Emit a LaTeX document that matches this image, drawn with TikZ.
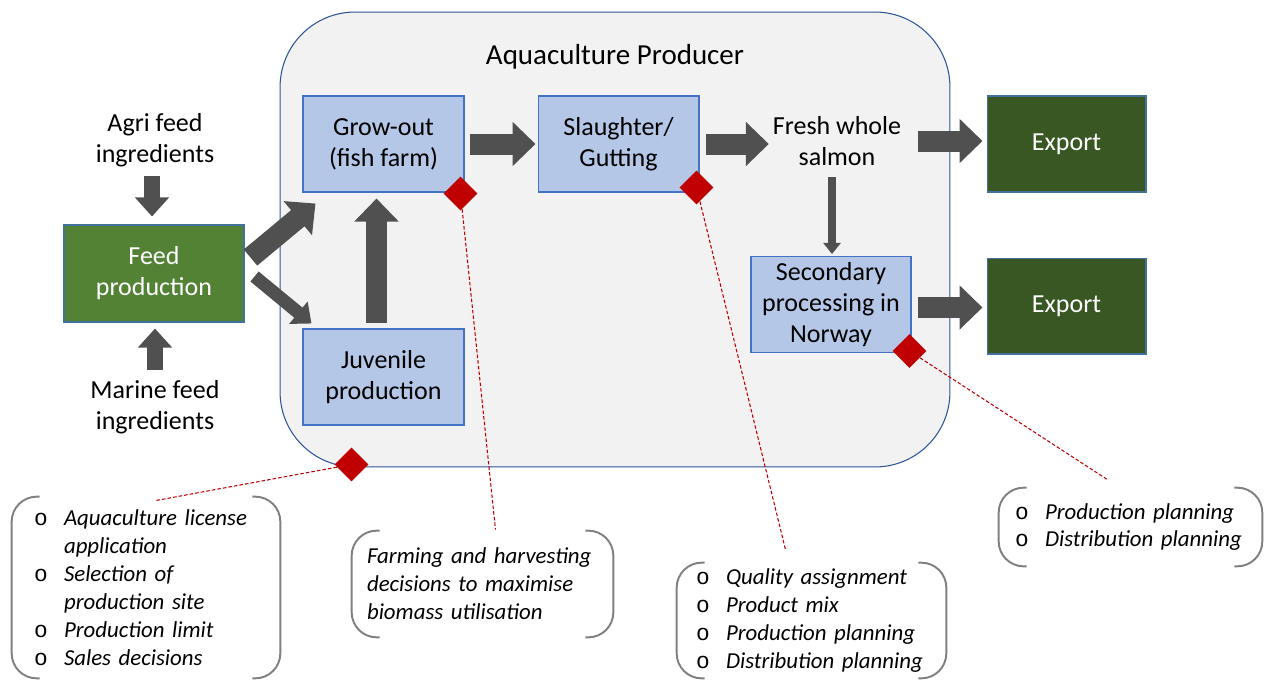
\documentclass[tikz,border=0pt]{standalone}
\usepackage{fontspec}
\setmainfont{Carlito}
\newfontfamily\bulletfont{Liberation Mono}
\usepackage{xcolor}
\usetikzlibrary{shapes.geometric, arrows.meta, positioning, calc}
\definecolor{boxfill}{RGB}{180,199,231}
\definecolor{boxline}{RGB}{68,114,196}
\definecolor{contfill}{RGB}{242,242,242}
\definecolor{contline}{RGB}{47,85,151}
\definecolor{feedgreen}{RGB}{84,130,53}
\definecolor{exportgreen}{RGB}{56,87,35}
\definecolor{greenline}{RGB}{65,113,156}
\definecolor{flagred}{RGB}{192,0,0}
\definecolor{arrowgray}{RGB}{80,80,80}
\definecolor{bracketgray}{RGB}{128,128,128}
\newcommand{\boxfont}{\fontsize{14.8}{17.7}\selectfont}
\newcommand{\titlefont}{\fontsize{16.5}{19}\selectfont}
\newcommand{\notefont}{\fontsize{13}{15.9}\selectfont\itshape\hyphenpenalty=10000}
\newcommand{\bul}{\makebox[0.6cm][l]{\upshape\bulletfont\fontsize{13}{15.9}\selectfont o}}
\newcommand{\subline}{\hspace*{0.6cm}}

\begin{document}
\begin{tikzpicture}[
    x=0.02cm, y=-0.02cm,
    container/.style={rectangle, draw=contline, fill=contfill, line width=0.6pt, rounded corners=1.5cm, minimum width=13.4cm, minimum height=9.1cm},
    box/.style={rectangle, draw=boxline, fill=boxfill, line width=0.6pt, minimum width=3.22cm, minimum height=1.92cm, align=center, font=\boxfont, inner sep=1pt},
    greenbox/.style={box, draw=greenline, fill=feedgreen, text=white},
    exportbox/.style={greenbox, fill=exportgreen, minimum width=3.18cm},
    txt/.style={align=center, font=\boxfont, inner sep=1pt},
    note/.style={align=left, font=\notefont, inner xsep=0.38cm, inner ysep=0pt},
    brk/.style={draw=bracketgray, line width=1.1pt, rounded corners=0.5cm},
    dmd/.style={diamond, fill=flagred, minimum size=0.68cm, inner sep=0pt},
    dashline/.style={draw=flagred, line width=0.6pt, dash pattern=on 2pt off 1.2pt},
    bigarrow/.style={draw=arrowgray, line width=0.42cm, -{Triangle[length=0.46cm, width=0.86cm]}},
    midarrow/.style={draw=arrowgray, line width=0.32cm, -{Triangle[length=0.38cm, width=0.66cm]}},
    smallarrow/.style={draw=arrowgray, line width=0.26cm, -{Triangle[length=0.34cm, width=0.56cm]}},
    thinarrow/.style={draw=arrowgray, line width=0.16cm, -{Triangle[length=0.22cm, width=0.34cm]}}
]
\path[use as bounding box, fill=white] (0,0) rectangle (1271,680);

% Producer
\node[container] (cont) at (615,239.5) {};
\node[txt, font=\titlefont] (title) at (615,57) {Aquaculture Producer};
\node[box] (grow) at (383.5,144) {Grow-out\\(fish farm)};
\node[box, right=1.46cm of grow] (slaughter) {Slaughter/\\Gutting};
\node[box, below=2.72cm of grow] (juvenile) {Juvenile\\production};
\node[txt] (fresh) at (837,141) {Fresh whole\\salmon};
\node[box, minimum width=3.2cm] (secondary) at (831,304.5) {Secondary\\processing in\\Norway};

% Feed
\node[greenbox, minimum width=3.6cm, minimum height=1.94cm] (feed) at (154,273.5) {Feed\\production};
\node[txt] (agri) at (155,140) {Agri feed\\ingredients};
\node[txt] (marine) at (155,407) {Marine feed\\ingredients};

% Export
\node[exportbox] (export1) at (1066.5,144) {Export};
\node[exportbox, below=1.3cm of export1] (export2) {Export};

% Arrows
\draw[midarrow] ($(agri.south -| feed.north)+(-2,7)$) -- ($(feed.north)+(-2,-8)$);
\draw[midarrow] ($(marine.north -| feed.south)+(1,-8)$) -- ($(feed.south)+(1,6)$);
\draw[bigarrow] ($(feed.east)+(6,-16)$) -- ($(grow.south west)+(13,11)$);
\draw[smallarrow] ($(feed.east)+(10,3)$) -- ($(juvenile.north west)+(9,-5)$);
\draw[bigarrow] ($(juvenile.north)+(-7,-5)$) -- ($(grow.south)+(-7,6)$);
\draw[bigarrow] ($(grow.east)+(5,0)$) -- ($(slaughter.west)+(-2,0)$);
\draw[bigarrow] ($(slaughter.east)+(6,0)$) -- ($(slaughter.east -| fresh.west)+(-2,0)$);
\draw[bigarrow] ($(fresh.east)+(15,0)$) -- ($(fresh.east -| export1.west)+(-4,0)$);
\draw[thinarrow] ($(fresh.south -| secondary.north)+(1,9)$) -- ($(secondary.north)+(1,-2)$);
\draw[bigarrow] ($(secondary.east)+(6,3)$) -- ($(secondary.east -| export2.west)+(-4,3)$);

% Decisions
\node[dmd] (d1) at ($(grow.south east)+(-4,1)$) {};
\node[dmd] (d2) at ($(slaughter.south east)+(-3,-5)$) {};
\node[dmd] (d3) at ($(secondary.south east)+(-2,-2)$) {};
\node[dmd] (d4) at ($(cont.south west)+(72,-3)$) {};

\node[note, inner xsep=0.44cm, text width=4.48cm, minimum height=3.62cm] (lic) at (146,587.5) {\bul Aquaculture license\\\subline application\\\bul Selection of\\\subline production site\\\bul Production limit\\\bul Sales decisions};
\node[note, inner xsep=0.3cm, text width=4.62cm, minimum height=2.12cm] (farm) at (482.5,584) {Farming and harvesting\\decisions to maximise\\biomass utilisation};
\node[note, text width=4.62cm, minimum height=2.3cm] (qual) at (811.5,620.5) {\bul Quality assignment\\\bul Product mix\\\bul Production planning\\\bul Distribution planning};
\node[note, inner xsep=0.32cm, text width=4.62cm, minimum height=1.56cm] (plan) at (1130.5,527) {\bul Production planning\\\bul Distribution planning};

\draw[dashline] (d1) -- ($(farm.north)+(13,-1)$);
\draw[dashline] (d2) -- ($(qual.north)+(-26,-13)$);
\draw[dashline] (d3) -- ($(plan.north)+(-23,-8)$);
\draw[dashline] (d4) -- ($(lic.north)+(9,4)$);

\foreach \n in {lic,farm,qual,plan} {
  \draw[brk] ([xshift=0.56cm]\n.north west) -- (\n.north west) -- (\n.south west) -- ([xshift=0.56cm]\n.south west);
  \draw[brk] ([xshift=-0.56cm]\n.north east) -- (\n.north east) -- (\n.south east) -- ([xshift=-0.56cm]\n.south east);
}

\end{tikzpicture}
\end{document}
